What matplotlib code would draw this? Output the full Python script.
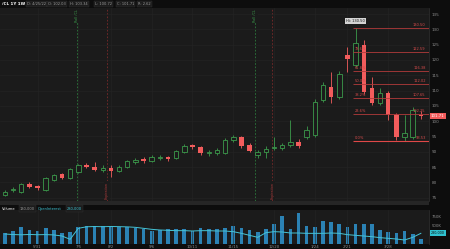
import numpy as np
import pandas as pd
import matplotlib
matplotlib.use("Agg")
import matplotlib.pyplot as plt
import matplotlib.transforms as mtransforms
from matplotlib.patches import Rectangle

# /CL 1Y 1W weekly candles
opens = [75.86, 77.49, 76.84, 79.46, 78.80, 77.49, 80.77, 82.73, 81.42, 83.38,
         85.67, 85.02, 84.04, 84.69, 83.71, 85.02, 86.66, 87.64, 86.98, 87.96,
         88.29, 87.96, 89.93, 92.22, 91.56, 89.60, 89.60, 89.60, 93.85, 94.83,
         92.22, 88.95, 89.93, 91.24, 91.24, 92.22, 93.20, 94.83, 95.49, 106.94,
         111.19, 107.92, 121.67, 118.39, 124.94, 110.87, 105.96, 109.23, 102.03, 94.83,
         94.83, 102.03]
highs = [77.49, 78.48, 79.78, 80.11, 79.13, 81.75, 82.73, 83.06, 84.69, 86.00,
         86.33, 86.66, 85.67, 85.67, 85.67, 87.31, 87.96, 88.29, 88.95, 88.95,
         88.62, 90.58, 92.54, 92.54, 91.89, 90.58, 91.24, 94.50, 95.49, 95.16,
         92.87, 90.58, 91.89, 94.83, 92.87, 100.40, 94.17, 98.43, 107.27, 112.83,
         116.10, 116.43, 124.28, 130.50, 126.57, 114.47, 110.87, 109.89, 102.69, 102.03,
         104.65, 103.34]
lows = [75.53, 76.84, 76.51, 78.15, 77.49, 77.17, 80.44, 81.09, 81.09, 83.06,
        84.69, 83.71, 83.38, 81.75, 83.38, 84.69, 86.00, 86.33, 86.66, 87.31,
        86.98, 87.64, 89.60, 90.91, 88.95, 88.62, 88.95, 89.27, 93.20, 91.24,
        89.93, 87.96, 87.96, 90.58, 90.58, 91.56, 91.24, 94.17, 94.83, 106.29,
        105.96, 107.27, 116.10, 117.74, 108.90, 105.31, 105.31, 100.40, 93.85, 93.53,
        94.17, 100.72]
closes = [76.84, 77.82, 79.46, 78.48, 78.15, 81.42, 82.40, 81.42, 84.36, 85.67,
          85.02, 84.04, 84.69, 83.71, 85.02, 86.98, 87.31, 86.98, 88.29, 88.29,
          87.64, 90.26, 91.89, 91.56, 89.60, 89.93, 90.58, 93.85, 94.83, 91.89,
          90.26, 89.93, 90.91, 91.56, 92.22, 93.20, 91.89, 97.13, 106.29, 111.85,
          107.92, 115.45, 120.36, 125.59, 109.56, 105.96, 109.23, 102.03, 94.83, 96.14,
          103.67, 101.71]

# volume and open interest, thousands of contracts
volumes = [296, 361, 463, 389, 361, 435, 389, 315, 324, 482,
           503, 498, 505, 482, 480, 463, 435, 407, 361, 389,
           409, 404, 411, 370, 435, 417, 407, 454, 509, 454,
           389, 343, 407, 556, 778, 407, 870, 500, 482, 648,
           620, 556, 482, 552, 561, 549, 389, 343, 315, 370,
           278, 130]
open_interest = [270, 262, 258, 263, 259, 261, 256, 240, 190, 355,
                 378, 382, 379, 383, 380, 377, 370, 355, 340, 330,
                 325, 320, 320, 315, 320, 320, 315, 315, 305, 280,
                 250, 220, 290, 305, 300, 285, 285, 280, 280, 280,
                 285, 280, 260, 250, 240, 230, 215, 205, 195, 180,
                 220, 280]

week_start = "2021-05-03"
tick_weeks = [4, 9, 13, 18, 23, 28, 33, 38, 42, 47]
price_ticks = list(range(75, 140, 5))
vol_ticks = [500, 750]
roll_weeks = [8.8, 30.7]
expiry_weeks = [12.5, 32.8]
fib_levels = [0.0, 0.236, 0.382, 0.5, 0.618, 0.786, 1.0]

BG = '#1b1b1b'
FIG_BG = '#0d0d0d'
GREEN = '#3c9a4b'
RED = '#f25c5c'
TXT = '#8c8c8c'

o = np.array(opens)
h = np.array(highs)
l = np.array(lows)
c = np.array(closes)
x = np.arange(len(o))
dates = pd.date_range(week_start, periods=len(o), freq='W-MON')

W, H = 450, 249
fig = plt.figure(figsize=(4.5, 2.49), dpi=100, facecolor=FIG_BG)

def px(xp, yp):
    return xp / W, 1 - yp / H

# header bar
fig.text(*px(2, 4), "/CL 1Y 1W", fontsize=3, color='white', weight='bold', va='center')
head = ["D: %d/%d/%s" % (dates[-1].month, dates[-1].day, str(dates[-1].year)[2:]),
        "O: %.2f" % o[-1], "H: %.2f" % h[-1], "L: %.2f" % l[-1],
        "C: %.2f" % c[-1], "R: %.2f" % (h[-1] - l[-1])]
for xp, t in zip([27, 48, 70, 95, 117, 138], head):
    fig.text(*px(xp, 4), t, fontsize=2.6, color='#9a9a9a', va='center',
             bbox=dict(boxstyle='square,pad=0.3', fc='#1c1c1c', ec='#333333', lw=0.3))

# price pane
ax = fig.add_axes([0, 48 / H, 429 / W, 193 / H], facecolor=BG)
ax.set_xlim(-0.6, 52.0)
ax.set_ylim(73.9, 137.0)
ax.yaxis.tick_right()
ax.set_yticks(price_ticks)
ax.set_xticks(tick_weeks)
ax.tick_params(axis='y', length=0, labelsize=3, colors=TXT, pad=2)
ax.tick_params(axis='x', length=0, labelbottom=False)
ax.grid(True, color='#252525', lw=0.4)
for s in ['top', 'left', 'bottom']:
    ax.spines[s].set_visible(False)
ax.spines['right'].set_color('#333333')
ax.spines['right'].set_linewidth(0.5)

for v in roll_weeks:
    ax.axvline(v, color='#2d7a3c', lw=0.6, ls=(0, (2, 2)), zorder=1)
    ax.text(v, 136.5, "Roll /CL", rotation=90, va='top', ha='center', fontsize=2.4,
            color='#3c9a4b', bbox=dict(boxstyle='square,pad=0.2', fc=BG, ec='none'))
for v in expiry_weeks:
    ax.axvline(v, color='#7a2a2a', lw=0.6, ls=(0, (2, 2)), zorder=1)
    ax.text(v, 74.5, "Expiration", rotation=90, va='bottom', ha='center', fontsize=2.4,
            color='#a83a3a', bbox=dict(boxstyle='square,pad=0.2', fc=BG, ec='none'))

up = c >= o
dn = ~up
ax.vlines(x[up], l[up], h[up], color=GREEN, lw=0.6, zorder=2)
ax.vlines(x[dn], l[dn], h[dn], color=RED, lw=0.6, zorder=2)
ax.bar(x[up], np.maximum(c - o, 0.2)[up], bottom=o[up], width=0.55,
       facecolor=BG, edgecolor=GREEN, lw=0.6, zorder=3)
ax.bar(x[dn], np.maximum(o - c, 0.3)[dn], bottom=c[dn], width=0.55,
       color=RED, lw=0, zorder=3)

# fibonacci retracement from the high to the low after it
i_hi = int(np.argmax(h))
fib_hi = h[i_hi]
fib_lo = l[i_hi:].min()
x0, x1 = i_hi - 0.3, ax.get_xlim()[1]
for f in fib_levels:
    val = fib_lo + f * (fib_hi - fib_lo)
    col = '#e04848' if f == 0 else '#b23b3b'
    ax.hlines(val, x0, x1, color=col, lw=0.8 if f == 0 else 0.6, zorder=4)
    ax.text(x1 - 0.4, val + 0.35, "%.2f" % val, ha='right', va='bottom',
            fontsize=2.6, color='#d24a4a', zorder=5)
    if f < 1:
        ax.text(x0 + 0.2, val + 0.35, "%.1f%%" % (f * 100), ha='left', va='bottom',
                fontsize=2.6, color='#d24a4a', zorder=5)
ax.text(i_hi, fib_hi + 1.6, "Hi: %.2f" % fib_hi, ha='center', va='bottom', fontsize=2.6,
        color='#111111', zorder=6,
        bbox=dict(boxstyle='square,pad=0.25', fc='#d4d4d4', ec='none'))

tr = mtransforms.blended_transform_factory(ax.transAxes, ax.transData)
ax.text(1.004, c[-1], "%.2f" % c[-1], transform=tr, ha='left', va='center', fontsize=2.8,
        color='white', clip_on=False,
        bbox=dict(boxstyle='square,pad=0.3', fc=RED, ec='none'))

# separator and volume header
fig.patches.append(Rectangle(px(0, 205), 429 / W, 4 / H, transform=fig.transFigure,
                             fc='#262626', ec='none'))
fig.text(*px(2, 208.5), "Volume", fontsize=2.6, color='white', va='center')
fig.text(*px(20, 208.5), "{:,}".format(volumes[-1] * 1000), fontsize=2.6, color='#9a9a9a',
         va='center', bbox=dict(boxstyle='square,pad=0.3', fc='#1c1c1c', ec='#333333', lw=0.3))
fig.text(*px(38, 208.5), "OpenInterest", fontsize=2.6, color='#3fc6d6', va='center')
fig.text(*px(67, 208.5), "{:,}".format(open_interest[-1] * 1000), fontsize=2.6, color='#3fc6d6',
         va='center', bbox=dict(boxstyle='square,pad=0.3', fc='#1c1c1c', ec='#333333', lw=0.3))

# volume pane
vax = fig.add_axes([0, 5 / H, 429 / W, 34 / H], facecolor=BG)
oax = vax.twinx()
vax.set_xlim(ax.get_xlim())
vax.set_ylim(0, 944)
vax.bar(x, volumes, width=0.45, color='#2b82b4', lw=0)
vax.yaxis.tick_right()
vax.set_yticks(vol_ticks)
vax.set_yticklabels(["%dK" % v for v in vol_ticks])
vax.set_xticks(tick_weeks)
vax.set_xticklabels(["%d/%d" % (dates[i].month, dates[i].day) for i in tick_weeks])
vax.tick_params(axis='y', length=0, labelsize=2.8, colors=TXT, pad=2)
vax.tick_params(axis='x', length=0, labelsize=2.8, colors=TXT, pad=0.8)
vax.grid(True, axis='x', color='#252525', lw=0.4)
for s in ['top', 'left', 'bottom']:
    vax.spines[s].set_visible(False)
vax.spines['right'].set_color('#333333')
vax.spines['right'].set_linewidth(0.5)

oax.set_ylim(120, 630)
oax.plot(x, open_interest, color='#45c4d6', lw=0.7)
oax.set_yticks([])
for s in oax.spines.values():
    s.set_visible(False)
tr2 = mtransforms.blended_transform_factory(oax.transAxes, oax.transData)
oax.text(1.004, open_interest[-1], "{:,}".format(open_interest[-1] * 1000), transform=tr2,
         ha='left', va='center', fontsize=2.4, color='#0d0d0d', clip_on=False,
         bbox=dict(boxstyle='square,pad=0.3', fc='#2fc2d0', ec='none'))

fig.savefig("out.png", dpi=100, facecolor=FIG_BG)
